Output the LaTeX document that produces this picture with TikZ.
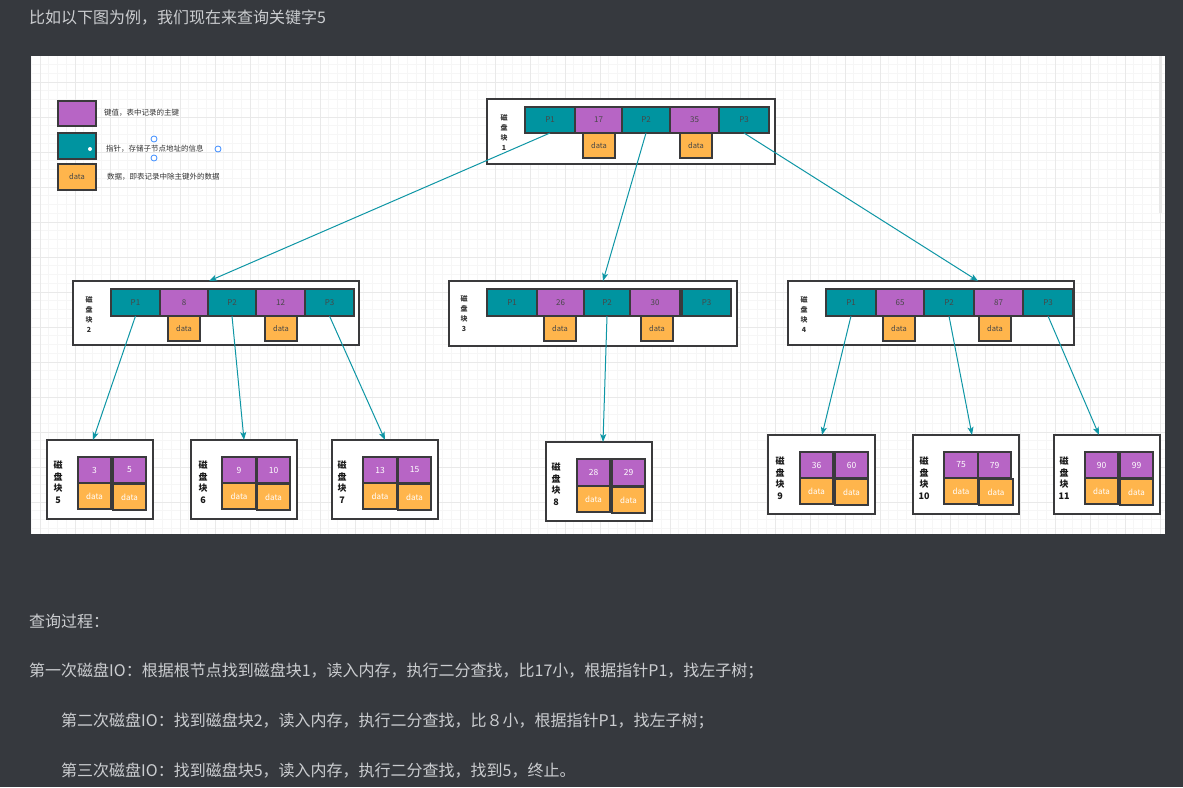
\documentclass[tikz,border=0pt]{standalone}
\usepackage{fontspec}
\setmainfont{Noto Sans CJK SC}
\usetikzlibrary{arrows.meta,calc}
\definecolor{bg}{RGB}{54,57,62}
\definecolor{fg}{RGB}{203,205,208}
\definecolor{pur}{RGB}{183,101,197}
\definecolor{tea}{RGB}{0,148,160}
\definecolor{ora}{RGB}{255,181,76}
\definecolor{brd}{RGB}{58,58,60}
\definecolor{arrc}{RGB}{14,150,165}
\definecolor{handle}{RGB}{60,140,255}
\tikzset{
 cellbase/.style={draw=brd, line width=1.2pt, inner sep=0pt, outer sep=0pt, anchor=north west, text=black!72, font=\fontsize{8}{9}\selectfont},
 keyc/.style={cellbase, fill=pur},
 ptrc/.style={cellbase, fill=tea},
 datc/.style={cellbase, fill=ora, font=\fontsize{7.5}{8}\selectfont},
 lkey/.style={keyc, text=white, font=\fontsize{8.5}{9}\selectfont},
 ldat/.style={datc, text=white, font=\fontsize{8}{9}\selectfont},
 blk/.style={draw=brd, line width=1.3pt, fill=white, inner sep=0pt, outer sep=0pt, anchor=north west},
 lbl/.style={align=center, inner sep=0pt, font=\fontsize{7}{10}\selectfont\bfseries, text=black!80},
 llbl/.style={align=center, inner sep=0pt, font=\fontsize{9}{11.5}\selectfont\bfseries, text=black!90},
 conn/.style={draw=arrc, line width=1pt, -{Stealth[length=8pt,width=6pt,inset=2pt]}},
 pagetext/.style={anchor=west, inner sep=0pt, text=fg, font=\fontsize{16}{18}\selectfont},
 legtext/.style={anchor=west, inner sep=0pt, text=black!80, font=\fontsize{7.5}{8}\selectfont},
 gminor/.style={draw=gray!7, line width=0.6pt},
 gmajor/.style={draw=gray!17, line width=0.7pt},
 hdl/.style={circle, draw=handle, fill=white, line width=0.8pt, minimum size=6pt, inner sep=0pt},
}
\newcommand\mycell[6]{\node[#1,minimum width=#4pt,minimum height=#5pt] (#2) at (#3) {#6};}
\newcommand\myblk[4]{\node[blk,minimum width=#3pt,minimum height=#4pt] (#1) at (#2) {};}
\begin{document}
\begin{tikzpicture}[x=1pt,y=-1pt]
\useasboundingbox (0,0) rectangle (1183,787);
\fill[bg] (0,0) rectangle (1183,787);
% panel
\fill[white] (31,56) rectangle (1165,534);
\foreach \k in {3,...,132} {\draw[gminor] ({5+8.75*\k},56) -- ({5+8.75*\k},534);}
\foreach \k in {6,...,59} {\draw[gminor] (31,{12+8.75*\k}) -- (1165,{12+8.75*\k});}
\foreach \k in {1,...,33} {\draw[gmajor] ({5+35*\k},56) -- ({5+35*\k},534);}
\foreach \k in {2,...,14} {\draw[gmajor] (31,{12+35*\k}) -- (1165,{12+35*\k});}
\fill[gray!18] (1159,56) rectangle (1162,213);

% page text
\node[pagetext] (t0) at (29,18) {比如以下图为例，我们现在来查询关键字5};
\node[pagetext] (t1) at (29,621) {查询过程：};
\node[pagetext] (t2) at (29,671) {第一次磁盘IO：根据根节点找到磁盘块1，读入内存，执行二分查找，比17小，根据指针P1，找左子树；};
\node[pagetext] (t3) at (61,721) {第二次磁盘IO：找到磁盘块2，读入内存，执行二分查找，比８小，根据指针P1，找左子树；};
\node[pagetext] (t4) at (61,771) {第三次磁盘IO：找到磁盘块5，读入内存，执行二分查找，找到5，终止。};

% legend
\mycell{keyc}{lg1}{58,101}{38}{25}{}
\mycell{ptrc}{lg2}{58,133}{38}{26}{}
\mycell{datc}{lg3}{58,164}{38}{26}{data}
\fill[white] (90,149) circle (2);
\node[legtext] (lt1) at (104,113) {键值，表中记录的主键};
\node[legtext] (lt2) at (106,149) {指针，存储子节点地址的信息};
\node[legtext] (lt3) at (107,177) {数据，即表记录中除主键外的数据};
\node[hdl] (h1) at (154,139) {};
\node[hdl] (h2) at (154,158) {};
\node[hdl] (h3) at (218,149) {};

% root block
\myblk{b1}{487,99}{288}{65}
\node[lbl] (l1) at (504,132) {磁\\盘\\块\\1};
\mycell{datc}{b1d1}{583,133}{32}{25}{data}
\mycell{datc}{b1d2}{680,133}{32}{25}{data}
\mycell{ptrc}{b1p1}{525,107}{50}{26}{P1}
\mycell{keyc}{b1k1}{575,107}{47}{26}{17}
\mycell{ptrc}{b1p2}{622,107}{48}{26}{P2}
\mycell{keyc}{b1k2}{670,107}{49}{26}{35}
\mycell{ptrc}{b1p3}{719,107}{50}{26}{P3}

% block 2
\myblk{b2}{73,281}{286}{64}
\node[lbl] (l2) at (89,314) {磁\\盘\\块\\2};
\mycell{datc}{b2d1}{168,316}{32}{25}{data}
\mycell{datc}{b2d2}{265,316}{32}{25}{data}
\mycell{ptrc}{b2p1}{111,289}{49}{27}{P1}
\mycell{keyc}{b2k1}{160,289}{48}{27}{8}
\mycell{ptrc}{b2p2}{208,289}{48}{27}{P2}
\mycell{keyc}{b2k2}{256,289}{49}{27}{12}
\mycell{ptrc}{b2p3}{305,289}{49}{27}{P3}

% block 3
\myblk{b3}{449,281}{288}{65}
\node[lbl] (l3) at (464,314) {磁\\盘\\块\\3};
\mycell{datc}{b3d1}{544,316}{32}{25}{data}
\mycell{datc}{b3d2}{641,316}{32}{25}{data}
\mycell{ptrc}{b3p1}{487,289}{50}{27}{P1}
\mycell{keyc}{b3k1}{537,289}{47}{27}{26}
\mycell{ptrc}{b3p2}{584,289}{46}{27}{P2}
\mycell{keyc}{b3k2}{630,289}{50}{27}{30}
\mycell{ptrc}{b3p3}{682,289}{49}{27}{P3}

% block 4
\myblk{b4}{788,281}{286}{64}
\node[lbl] (l4) at (804,314) {磁\\盘\\块\\4};
\mycell{datc}{b4d1}{883,316}{32}{25}{data}
\mycell{datc}{b4d2}{979,316}{32}{25}{data}
\mycell{ptrc}{b4p1}{826,289}{50}{27}{P1}
\mycell{keyc}{b4k1}{876,289}{48}{27}{65}
\mycell{ptrc}{b4p2}{924,289}{50}{27}{P2}
\mycell{keyc}{b4k2}{974,289}{49}{27}{87}
\mycell{ptrc}{b4p3}{1023,289}{50}{27}{P3}

% leaves
\myblk{b5}{47,440}{106}{79}
\node[llbl] (l5) at (58,482) {磁\\盘\\块\\5};
\mycell{lkey}{b5k1}{78,457}{33}{26}{3}
\mycell{lkey}{b5k2}{113,457}{33}{26}{5}
\mycell{ldat}{b5d1}{78,483}{33}{26}{data}
\mycell{ldat}{b5d2}{113,484}{33}{26}{data}

\myblk{b6}{191,440}{106}{79}
\node[llbl] (l6) at (203,482) {磁\\盘\\块\\6};
\mycell{lkey}{b6k1}{222,457}{34}{26}{9}
\mycell{lkey}{b6k2}{257,457}{33}{26}{10}
\mycell{ldat}{b6d1}{222,483}{34}{26}{data}
\mycell{ldat}{b6d2}{257,484}{33}{26}{data}

\myblk{b7}{332,440}{106}{79}
\node[llbl] (l7) at (342,482) {磁\\盘\\块\\7};
\mycell{lkey}{b7k1}{363,457}{34}{26}{13}
\mycell{lkey}{b7k2}{398,457}{33}{26}{15}
\mycell{ldat}{b7d1}{363,483}{34}{26}{data}
\mycell{ldat}{b7d2}{398,484}{33}{26}{data}

\myblk{b8}{546,442}{106}{79}
\node[llbl] (l8) at (556,484) {磁\\盘\\块\\8};
\mycell{lkey}{b8k1}{577,459}{33}{27}{28}
\mycell{lkey}{b8k2}{612,459}{33}{27}{29}
\mycell{ldat}{b8d1}{577,486}{33}{26}{data}
\mycell{ldat}{b8d2}{612,487}{33}{26}{data}

\myblk{b9}{768,435}{107}{79}
\node[llbl] (l9) at (780,478) {磁\\盘\\块\\9};
\mycell{lkey}{b9k1}{800,452}{33}{26}{36}
\mycell{lkey}{b9k2}{835,452}{33}{26}{60}
\mycell{ldat}{b9d1}{800,478}{33}{26}{data}
\mycell{ldat}{b9d2}{835,479}{33}{26}{data}

\myblk{b10}{913,435}{106}{79}
\node[llbl] (l10) at (924,478) {磁\\盘\\块\\10};
\mycell{lkey}{b10k1}{944,452}{34}{26}{75}
\mycell{lkey}{b10k2}{978,452}{33}{26}{79}
\mycell{ldat}{b10d1}{944,478}{34}{26}{data}
\mycell{ldat}{b10d2}{979,479}{34}{26}{data}

\myblk{b11}{1054,435}{106}{79}
\node[llbl] (l11) at (1064,478) {磁\\盘\\块\\11};
\mycell{lkey}{b11k1}{1085,452}{33}{26}{90}
\mycell{lkey}{b11k2}{1120,452}{33}{26}{99}
\mycell{ldat}{b11d1}{1085,478}{33}{26}{data}
\mycell{ldat}{b11d2}{1120,479}{33}{26}{data}

% connectors
\draw[conn] (b1p1.south) -- ([xshift=-7pt]b2.north);
\draw[conn] (b1p2.south) -- ([xshift=10pt]b3.north);
\draw[conn] (b1p3.south) -- ([xshift=47pt]b4.north);
\draw[conn] (b2p1.south) -- ([xshift=-7pt]b5.north);
\draw[conn] (b2p2.south) -- (b6.north);
\draw[conn] (b2p3.south) -- (b7.north);
\draw[conn] (b3p2.south) -- ([xshift=4pt]b8.north);
\draw[conn] (b4p1.south) -- ([xshift=0.5pt]b9.north);
\draw[conn] (b4p2.south) -- ([xshift=6pt]b10.north);
\draw[conn] (b4p3.south) -- ([xshift=-8pt]b11.north);
\end{tikzpicture}
\end{document}
